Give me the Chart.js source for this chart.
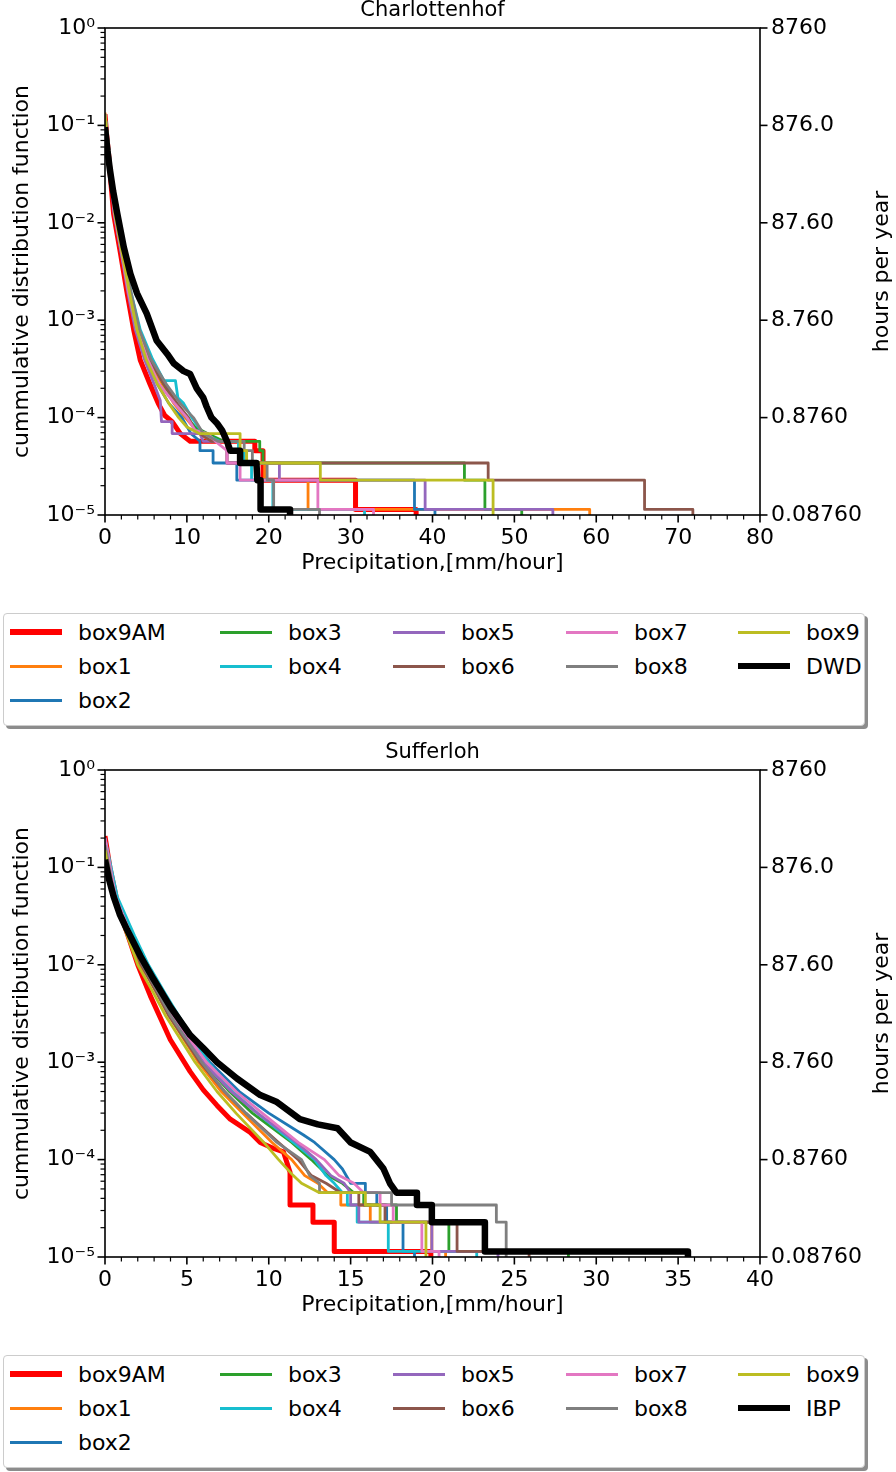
<!DOCTYPE html>
<html>
<head>
<meta charset="utf-8">
<script src="https://cdn.jsdelivr.net/npm/chart.js@4.4.1/dist/chart.umd.min.js"></script>
<style>
  html, body { margin: 0; padding: 0; background: #fff; }
  body { width: 896px; height: 1472px; position: relative; overflow: hidden; font-family: "DejaVu Sans", sans-serif; }
  .panel { position: absolute; left: 0; width: 896px; height: 742px; }
  .panel canvas { position: absolute; left: 0; top: 0; }
  .legend { position: absolute; left: 3px; top: 613px; width: 862px; height: 113px; box-sizing: border-box;
            border: 1px solid #ccc; border-radius: 4px; background: #fff; box-shadow: 3px 3px 0 rgba(0,0,0,0.45); }
  .legend .item { position: absolute; height: 34px; display: flex; align-items: center; font-size: 22px; color: #000; white-space: nowrap; }
  .legend .swatch { display: inline-block; width: 52px; margin-right: 16px; }
</style>
</head>
<body>
<div class="panel" style="top:0"><canvas id="c1" width="896" height="590"></canvas><div class="legend" id="l1"></div></div>
<div class="panel" style="top:742px"><canvas id="c2" width="896" height="590"></canvas><div class="legend" id="l2"></div></div>
<script>
// series names, in plotting order
const boxNames = ['box9AM', 'box1', 'box2', 'box3', 'box4', 'box5', 'box6', 'box7', 'box8', 'box9'];
const seriesColors = ['#ff0000', '#ff7f0e', '#1f77b4', '#2ca02c', '#17becf', '#9467bd', '#8c564b', '#e377c2', '#7f7f7f', '#bcbd22', '#000000'];
const seriesWidths = [5, 2.8, 2.8, 2.8, 2.8, 2.8, 2.8, 2.8, 2.8, 2.8, 6.5];
const legendWidths = [5.5, 3, 3, 3, 3, 3, 3, 3, 3, 3, 5.5];

// y ticks: cdf decades and matching hours per year
const yTickValues = [1e-5, 1e-4, 1e-3, 1e-2, 1e-1, 1];
const cdfTickLabels = ['10⁻⁵', '10⁻⁴', '10⁻³', '10⁻²', '10⁻¹', '10⁰'];
const hoursTickLabels = ['0.08760', '0.8760', '8.760', '87.60', '876.0', '8760'];

// Charlottenhof: [precipitation mm/h, exceedance probability]
const ch_box9AM = [[0,0.13],[0.2,0.08],[0.45,0.05],[0.75,0.024],[1.05,0.0124],[1.9,0.0048],[2.7,0.0019],[3.5,0.0008],[4.3,0.00039],[5.5,0.00022],[6.5,0.00014],[7.3,0.000105],[8.2,9.1e-5],[9.2,6.85e-5],[10.4,5.71e-5],[18.3,5.71e-5],[18.3,4.57e-5],[19.3,4.57e-5],[19.3,2.28e-5],[30.6,2.28e-5],[30.6,1.14e-5],[38.0,1.14e-5],[38.0,0]];
const ch_box1 = [[0,0.135],[0.5,0.05],[1.2,0.0124],[2.1,0.0048],[3.0,0.0019],[4.0,0.0008],[5.3,0.0004],[7.0,0.00022],[8.4,0.00014],[9.8,1e-4],[11.5,6.85e-5],[13.0,5.71e-5],[15.0,5.71e-5],[15.0,4.57e-5],[17.0,4.57e-5],[17.0,3.42e-5],[19.5,3.42e-5],[19.5,2.28e-5],[24.8,2.28e-5],[24.8,1.14e-5],[59.2,1.14e-5],[59.2,0]];
const ch_box2 = [[0,0.13],[0.5,0.05],[1.15,0.0124],[2.0,0.0048],[2.9,0.0019],[3.8,0.0008],[5.0,0.0004],[6.4,0.00022],[7.8,0.00014],[9.4,1e-4],[10.5,6.85e-5],[11.6,5.71e-5],[11.6,4.57e-5],[13.2,4.57e-5],[13.2,3.42e-5],[16.1,3.42e-5],[16.1,2.28e-5],[37.8,2.28e-5],[37.8,1.14e-5],[40.3,1.14e-5],[40.3,0]];
const ch_box3 = [[0,0.13],[0.5,0.05],[1.2,0.0124],[2.1,0.0048],[3.1,0.0019],[4.1,0.0008],[5.5,0.0004],[7.2,0.00022],[8.6,0.00014],[10.0,1e-4],[11.0,8e-5],[12.5,6.85e-5],[14.5,5.71e-5],[18.9,5.71e-5],[18.9,4.57e-5],[19.3,4.57e-5],[19.3,3.42e-5],[43.9,3.42e-5],[43.9,2.28e-5],[46.4,2.28e-5],[46.4,1.14e-5],[50.9,1.14e-5],[50.9,0]];
const ch_box4 = [[0,0.13],[0.55,0.05],[1.25,0.0124],[2.2,0.0048],[3.2,0.0019],[4.3,0.0008],[5.8,0.0004],[7.2,0.00024],[8.6,0.00024],[8.9,0.00016],[9.6,0.00014],[10.6,1e-4],[12.0,6.85e-5],[14.0,5.71e-5],[16.3,5.71e-5],[16.3,4.57e-5],[17.0,4.57e-5],[17.0,3.42e-5],[17.9,3.42e-5],[17.9,2.28e-5],[20.5,2.28e-5],[20.5,1.14e-5],[31.7,1.14e-5],[31.7,0]];
const ch_box5 = [[0,0.13],[0.45,0.05],[1.1,0.0124],[2.0,0.0048],[2.8,0.0019],[3.7,0.0008],[4.8,0.0004],[6.0,0.00022],[6.75,0.00015],[6.9,9.1e-5],[8.2,9.1e-5],[8.2,6.85e-5],[11.6,6.85e-5],[12.0,5.71e-5],[14.9,5.71e-5],[14.9,3.42e-5],[21.3,3.42e-5],[21.3,2.28e-5],[39.1,2.28e-5],[39.1,1.14e-5],[54.7,1.14e-5],[54.7,0]];
const ch_box6 = [[0,0.13],[0.5,0.05],[1.2,0.0124],[2.1,0.0048],[3.0,0.0019],[4.0,0.0008],[5.4,0.0004],[7.2,0.00022],[8.8,0.00014],[10.2,1e-4],[11.0,7.4e-5],[13.0,5.71e-5],[14.9,5.71e-5],[14.9,3.42e-5],[46.8,3.42e-5],[46.8,2.28e-5],[65.9,2.28e-5],[65.9,1.14e-5],[71.8,1.14e-5],[71.8,0]];
const ch_box7 = [[0,0.13],[0.5,0.05],[1.15,0.0124],[2.05,0.0048],[2.9,0.0019],[3.9,0.0008],[5.2,0.0004],[6.6,0.00022],[8.5,0.00014],[10.0,1e-4],[11.0,7.4e-5],[12.5,6.85e-5],[13.5,5.71e-5],[14.9,4.57e-5],[14.9,3.42e-5],[16.5,3.42e-5],[16.5,2.28e-5],[26.0,2.28e-5],[26.0,1.14e-5],[32.8,1.14e-5],[32.8,0]];
const ch_box8 = [[0,0.13],[0.55,0.05],[1.25,0.0124],[2.2,0.0048],[3.2,0.0019],[4.2,0.0008],[5.6,0.0004],[7.5,0.00022],[9.2,0.00014],[10.8,1e-4],[12.0,6.85e-5],[13.8,5.71e-5],[17.0,5.71e-5],[17.0,4.57e-5],[18.0,4.57e-5],[18.0,3.42e-5],[19.8,3.42e-5],[19.8,2.28e-5],[20.6,2.28e-5],[20.6,1.14e-5],[26.2,1.14e-5],[26.2,0]];
const ch_box9 = [[0,0.13],[0.5,0.05],[1.2,0.0124],[2.1,0.0048],[3.0,0.0019],[3.9,0.0008],[5.0,0.0004],[6.4,0.00022],[7.8,0.00014],[9.0,1e-4],[10.0,8e-5],[11.5,6.85e-5],[16.5,6.85e-5],[16.5,4.57e-5],[17.3,4.57e-5],[17.3,3.42e-5],[26.3,3.42e-5],[26.3,2.28e-5],[47.4,2.28e-5],[47.4,0]];
const ch_DWD = [[0,0.096],[0.3,0.055],[0.6,0.035],[1.0,0.021],[1.5,0.0124],[2.3,0.0056],[3.1,0.003],[3.9,0.0019],[5.1,0.00117],[6.3,0.00062],[7.6,0.00045],[8.4,0.00036],[9.6,0.0003],[10.4,0.00028],[11.2,0.0002],[12.0,0.00016],[12.4,0.00013],[13.0,0.0001],[13.7,8.7e-5],[14.3,7.4e-5],[14.9,5.71e-5],[15.3,4.57e-5],[16.5,4.57e-5],[16.5,3.42e-5],[18.5,3.42e-5],[18.6,2.28e-5],[19.0,2.28e-5],[19.0,1.14e-5],[22.6,1.14e-5],[22.6,0]];

// Sufferloh
const su_box9AM = [[0,0.21],[0.3,0.1],[0.8,0.04],[1.4,0.02],[2.0,0.01],[2.77,0.0048],[3.99,0.0017],[5.2,0.0008],[6.0,0.00052],[6.84,0.00036],[7.65,0.00026],[8.87,0.00019],[9.48,0.00015],[10.3,0.00013],[10.9,0.00012],[11.3,7.4e-5],[11.3,3.42e-5],[12.7,3.42e-5],[12.7,2.28e-5],[14.0,2.28e-5],[14.0,1.14e-5],[19.9,1.14e-5],[19.9,0]];
const su_box1 = [[0,0.16],[0.55,0.05],[1.45,0.02],[2.2,0.01],[3.2,0.005],[3.9,0.003],[5.7,0.001],[7.1,0.0005],[8.4,0.0003],[10.2,0.00015],[11.4,1e-4],[12.2,6.85e-5],[13.0,5.71e-5],[13.6,4.57e-5],[14.4,4.57e-5],[14.4,3.42e-5],[16.2,3.42e-5],[16.2,2.28e-5],[19.96,2.28e-5],[19.96,1.14e-5],[20.8,1.14e-5],[20.8,0]];
const su_box2 = [[0,0.17],[0.6,0.05],[1.55,0.02],[2.3,0.01],[3.4,0.005],[4.1,0.003],[6.4,0.001],[8.2,0.0005],[10.0,0.0003],[12.1,0.00018],[12.8,0.00015],[14.0,1e-4],[14.5,8e-5],[15.0,5.71e-5],[15.9,5.71e-5],[15.9,4.57e-5],[16.6,4.57e-5],[16.6,3.42e-5],[17.2,3.42e-5],[17.2,2.28e-5],[18.2,2.28e-5],[18.2,1.14e-5],[18.9,1.14e-5],[18.9,0]];
const su_box3 = [[0,0.16],[0.6,0.05],[1.5,0.02],[2.25,0.01],[3.3,0.005],[4.0,0.003],[6.0,0.001],[7.6,0.0005],[9.0,0.0003],[11.4,0.00015],[12.6,1e-4],[13.6,6.85e-5],[14.5,5.71e-5],[15.2,4.57e-5],[15.8,4.57e-5],[15.8,3.42e-5],[17.8,3.42e-5],[17.8,2.28e-5],[21.0,2.28e-5],[21.0,1.14e-5],[28.3,1.14e-5],[28.3,0]];
const su_box4 = [[0,0.2],[0.75,0.05],[1.8,0.02],[2.65,0.01],[3.7,0.005],[4.5,0.003],[6.3,0.001],[7.8,0.0005],[9.3,0.0003],[11.5,0.00015],[12.8,1e-4],[13.5,6.85e-5],[14.0,5.71e-5],[14.5,4.57e-5],[14.8,4.57e-5],[14.8,3.42e-5],[15.4,3.42e-5],[15.4,2.28e-5],[17.3,2.28e-5],[17.3,1.14e-5],[22.7,1.14e-5],[22.7,0]];
const su_box5 = [[0,0.16],[0.6,0.05],[1.5,0.02],[2.25,0.01],[3.3,0.005],[4.0,0.003],[6.0,0.001],[7.7,0.0005],[9.3,0.0003],[11.7,0.00015],[12.9,1e-4],[13.8,6.85e-5],[14.6,5.71e-5],[15.0,4.57e-5],[15.0,3.42e-5],[15.5,3.42e-5],[15.5,2.28e-5],[19.96,2.28e-5],[19.96,1.14e-5],[24.0,1.14e-5],[24.0,0]];
const su_box6 = [[0,0.16],[0.55,0.05],[1.45,0.02],[2.2,0.01],[3.2,0.005],[3.9,0.003],[5.8,0.001],[7.3,0.0005],[8.6,0.0003],[10.6,0.00015],[11.8,1e-4],[12.6,6.85e-5],[13.5,5.71e-5],[14.4,4.57e-5],[15.5,4.57e-5],[15.5,3.42e-5],[17.1,3.42e-5],[17.1,2.28e-5],[21.5,2.28e-5],[21.5,1.14e-5],[25.9,1.14e-5],[25.9,0]];
const su_box7 = [[0,0.2],[0.65,0.05],[1.6,0.02],[2.35,0.01],[3.4,0.005],[4.15,0.003],[6.2,0.001],[8.0,0.0005],[9.6,0.0003],[11.8,0.00015],[13.4,1e-4],[14.3,6.85e-5],[15.2,5.71e-5],[15.8,4.57e-5],[16.8,4.57e-5],[16.8,3.42e-5],[17.6,3.42e-5],[17.6,2.28e-5],[19.35,2.28e-5],[19.35,1.14e-5],[20.4,1.14e-5],[20.4,0]];
const su_box8 = [[0,0.17],[0.6,0.05],[1.5,0.02],[2.3,0.01],[3.3,0.005],[4.0,0.003],[5.9,0.001],[7.3,0.0005],[8.6,0.0003],[10.5,0.00015],[12.0,1e-4],[12.5,6.85e-5],[13.1,5.71e-5],[13.1,4.57e-5],[17.5,4.57e-5],[17.5,3.42e-5],[23.9,3.42e-5],[23.9,2.28e-5],[24.5,2.28e-5],[24.5,0]];
const su_box9 = [[0,0.15],[0.5,0.05],[1.35,0.02],[2.0,0.01],[3.0,0.005],[3.7,0.003],[5.5,0.001],[6.84,0.0005],[8.0,0.0003],[9.7,0.00015],[10.6,1e-4],[11.5,6.85e-5],[12.0,5.71e-5],[13.1,4.57e-5],[15.9,4.57e-5],[15.9,3.42e-5],[16.8,3.42e-5],[16.8,2.28e-5],[19.6,2.28e-5],[19.6,0]];
const su_IBP = [[0,0.12],[0.25,0.075],[0.53,0.05],[0.9,0.033],[1.34,0.023],[2.16,0.0123],[2.97,0.0071],[3.99,0.0037],[5.2,0.0019],[6.0,0.0014],[6.84,0.001],[8.06,0.00068],[9.48,0.00046],[10.5,0.00039],[11.9,0.00026],[13.0,0.00023],[14.2,0.00021],[15.0,0.00015],[16.2,0.00012],[17.0,8.1e-5],[17.4,5.71e-5],[17.8,4.57e-5],[19.05,4.57e-5],[19.05,3.42e-5],[19.96,3.42e-5],[19.96,2.28e-5],[23.2,2.28e-5],[23.2,1.14e-5],[35.6,1.14e-5],[35.6,0]];

const legendColLeft = [6, 216, 389, 562, 734];
const legendRowTop = [1, 35, 69];

// frame, matplotlib-like outward ticks and the right-hand label
const axisFrame = {
  id: 'axisFrame',
  afterDatasetsDraw(chart, args, opts) {
    const { ctx, chartArea: a } = chart;
    const xs = chart.scales.x, ys = chart.scales.y;
    ctx.save();
    ctx.strokeStyle = '#000';
    const seg = (x1, y1, x2, y2, w) => {
      ctx.lineWidth = w;
      ctx.beginPath(); ctx.moveTo(x1, y1); ctx.lineTo(x2, y2); ctx.stroke();
    };
    const n = Math.round((xs.max - xs.min) / opts.xMinor);
    for (let i = 0; i <= n; i++) {
      const major = (i * opts.xMinor) % opts.xMajor === 0;
      const px = xs.getPixelForValue(xs.min + i * opts.xMinor);
      seg(px, a.bottom, px, a.bottom + (major ? 7.5 : 4.5), major ? 1.6 : 1.2);
    }
    for (let e = -5; e <= 0; e++) {
      for (let m = 1; m <= (e < 0 ? 9 : 1); m++) {
        const py = ys.getPixelForValue(m * Math.pow(10, e));
        seg(a.left, py, a.left - (m === 1 ? 7.5 : 4.5), py, m === 1 ? 1.6 : 1.2);
      }
    }
    yTickValues.forEach(v => {
      const py = ys.getPixelForValue(v);
      seg(a.right, py, a.right + 7.5, py, 1.6);
    });
    ctx.lineWidth = 1.6;
    ctx.strokeRect(a.left, a.top, a.right - a.left, a.bottom - a.top);
    ctx.fillStyle = '#000';
    ctx.font = '22px "DejaVu Sans"';
    ctx.translate(opts.rightLabelX, (a.top + a.bottom) / 2);
    ctx.rotate(-Math.PI / 2);
    ctx.textAlign = 'center';
    ctx.textBaseline = 'middle';
    ctx.fillText(opts.rightLabel, 0, 0);
    ctx.restore();
  }
};

Chart.defaults.font.family = '"DejaVu Sans", sans-serif';
Chart.defaults.color = '#000';

function makeChart(canvasId, title, names, lines, xMax, xMajor, xMinor) {
  const datasets = lines.map((pts, i) => ({
    label: names[i],
    data: pts.map(([x, v]) => ({ x: x, y: v > 0 ? v : 1e-7 })),
    borderColor: seriesColors[i],
    borderWidth: seriesWidths[i],
    borderJoinStyle: 'round',
    pointRadius: 0,
    tension: 0,
    fill: false,
    order: lines.length - i
  }));
  const noGrid = { display: false, drawTicks: false };
  new Chart(document.getElementById(canvasId), {
    type: 'line',
    data: { datasets },
    plugins: [axisFrame],
    options: {
      responsive: false,
      animation: false,
      devicePixelRatio: 1,
      events: [],
      layout: { padding: 0 },
      plugins: {
        legend: { display: false },
        tooltip: { enabled: false },
        title: { display: true, text: title, fullSize: false, color: '#000',
                 font: { size: 21, weight: 'normal', lineHeight: 1 }, padding: { top: 0, bottom: 7 } },
        axisFrame: { xMajor, xMinor, rightLabel: 'hours per year', rightLabelX: 882 }
      },
      scales: {
        x: {
          type: 'linear', min: 0, max: xMax,
          grid: noGrid, border: { display: false },
          ticks: { stepSize: xMajor, font: { size: 22 }, padding: 10, maxRotation: 0, autoSkip: false },
          title: { display: true, text: 'Precipitation,[mm/hour]', font: { size: 22 }, padding: { top: 0, bottom: 14 } },
          afterFit: s => { s.height = 75; }
        },
        y: {
          type: 'logarithmic', position: 'left', min: 1e-5, max: 1,
          grid: noGrid, border: { display: false },
          afterBuildTicks: s => { s.ticks = yTickValues.map(v => ({ value: v })); },
          ticks: { callback: (v, i) => cdfTickLabels[i], font: { size: 22 }, padding: 10, autoSkip: false },
          title: { display: true, text: 'cummulative distribution function', font: { size: 22 }, padding: { top: 9, bottom: 0 } },
          afterFit: s => { s.width = 105; }
        },
        y2: {
          type: 'logarithmic', position: 'right', min: 1e-5, max: 1, display: true,
          grid: noGrid, border: { display: false },
          afterBuildTicks: s => { s.ticks = yTickValues.map(v => ({ value: v })); },
          ticks: { callback: (v, i) => hoursTickLabels[i], font: { size: 22 }, padding: 11, autoSkip: false },
          afterFit: s => { s.width = 136; }
        }
      }
    }
  });
}

function buildLegend(elId, names) {
  const el = document.getElementById(elId);
  const ncol = 5;
  const base = Math.floor(names.length / ncol), extra = names.length % ncol;
  let k = 0;
  for (let c = 0; c < ncol; c++) {
    const rows = base + (c < extra ? 1 : 0);
    for (let r = 0; r < rows; r++, k++) {
      const item = document.createElement('div');
      item.className = 'item';
      item.style.left = legendColLeft[c] + 'px';
      item.style.top = legendRowTop[r] + 'px';
      const sw = document.createElement('span');
      sw.className = 'swatch';
      sw.style.height = legendWidths[k] + 'px';
      sw.style.background = seriesColors[k];
      const tx = document.createElement('span');
      tx.textContent = names[k];
      item.append(sw, tx);
      el.appendChild(item);
    }
  }
}

const chNames = boxNames.concat(['DWD']);
const suNames = boxNames.concat(['IBP']);

makeChart('c1', 'Charlottenhof', chNames,
  [ch_box9AM, ch_box1, ch_box2, ch_box3, ch_box4, ch_box5, ch_box6, ch_box7, ch_box8, ch_box9, ch_DWD], 80, 10, 2);
makeChart('c2', 'Sufferloh', suNames,
  [su_box9AM, su_box1, su_box2, su_box3, su_box4, su_box5, su_box6, su_box7, su_box8, su_box9, su_IBP], 40, 5, 1);
buildLegend('l1', chNames);
buildLegend('l2', suNames);
</script>
</body>
</html>
